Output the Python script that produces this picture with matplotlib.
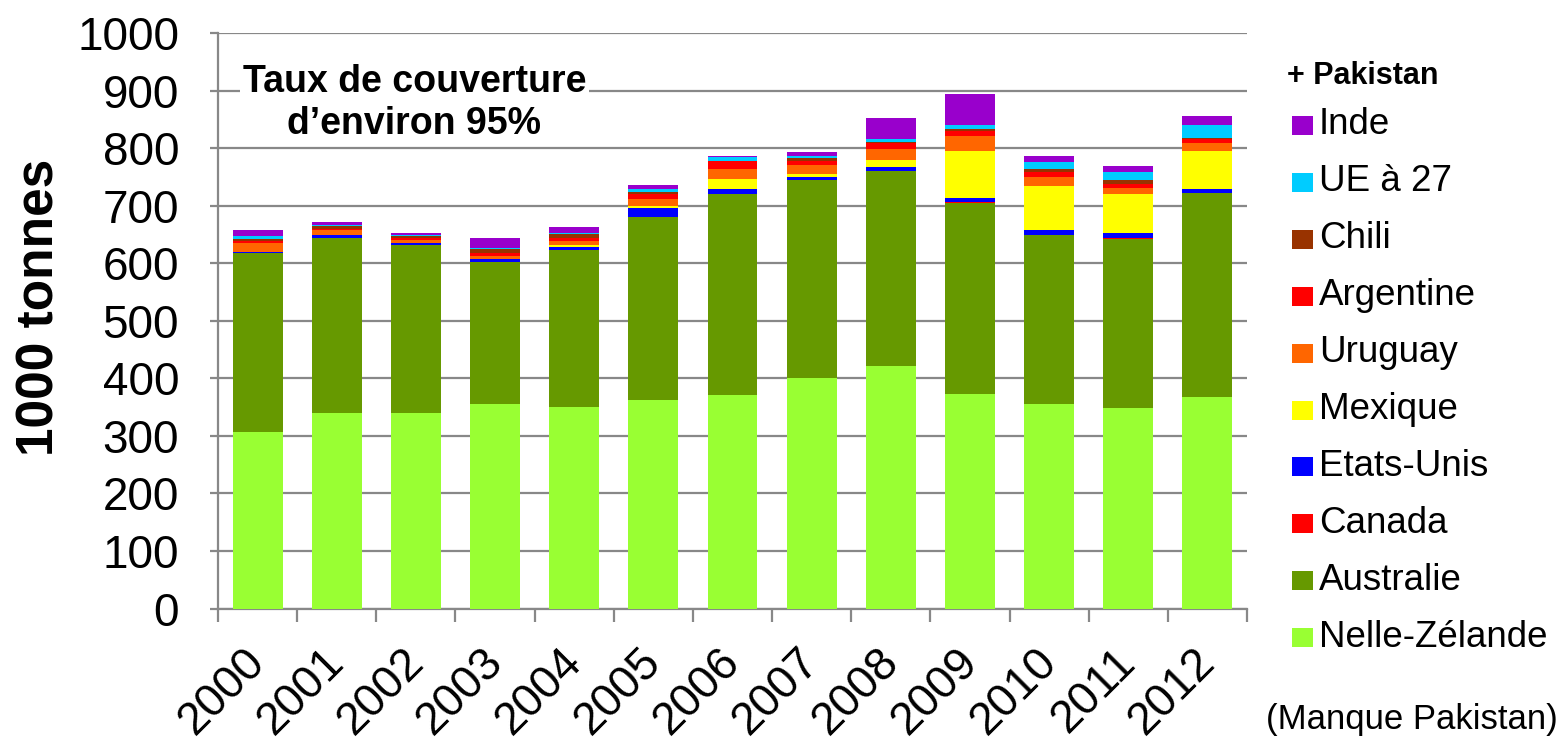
import matplotlib
matplotlib.use("Agg")
import matplotlib.pyplot as plt
import matplotlib.transforms as mtransforms
import numpy as np
from matplotlib.patches import Rectangle

plt.rcParams['font.family'] = ['Liberation Sans', 'DejaVu Sans']

years = ['2000', '2001', '2002', '2003', '2004', '2005', '2006',
         '2007', '2008', '2009', '2010', '2011', '2012']

nz        = [307, 340, 340, 355, 350, 362, 371, 400, 421, 373, 355, 348, 367]
australie = [311, 304, 292, 247, 273, 318, 349, 345, 339, 332, 294, 294, 355]
canada    = [0, 0, 0, 0, 0, 0, 0, 0, 0, 2, 0, 2, 0]
usa       = [2, 5, 3, 5, 5, 16, 9, 5, 7, 6, 9, 8, 7]
mexique   = [0, 0, 0, 0, 4, 4, 18, 5, 12, 82, 76, 68, 66]
uruguay   = [15, 8, 6, 6, 7, 12, 17, 16, 19, 26, 16, 11, 14]
argentine = [4, 3, 3, 5, 5, 8, 13, 6, 11, 9, 8, 7, 6]
chili     = [3, 4, 3, 7, 6, 4, 1, 5, 2, 3, 6, 6, 3]
ue27      = [5, 2, 2, 2, 2, 5, 6, 4, 5, 7, 12, 14, 23]
inde      = [10, 5, 3, 17, 11, 7, 3, 8, 37, 54, 10, 11, 14]

series = [
    ('Nelle-Zélande', nz, '#99FF33'),
    ('Australie', australie, '#669900'),
    ('Canada', canada, '#FF0000'),
    ('Etats-Unis', usa, '#0000FF'),
    ('Mexique', mexique, '#FFFF00'),
    ('Uruguay', uruguay, '#FF6600'),
    ('Argentine', argentine, '#FF0000'),
    ('Chili', chili, '#993300'),
    ('UE à 27', ue27, '#00CCFF'),
    ('Inde', inde, '#9900CC'),
]

W, H = 1562, 744
fig = plt.figure(figsize=(W / 100, H / 100), dpi=100)
ax = fig.add_axes([218 / W, 1 - 608.5 / H, (1247 - 218) / W, (608.5 - 33) / H])

x = np.arange(len(years))
bottom = np.zeros(len(years))
for name, vals, col in series:
    v = np.array(vals, dtype=float)
    ax.bar(x, v, width=0.63, bottom=bottom, color=col, edgecolor='none', zorder=3)
    bottom += v

grey = '#888888'
ax.set_ylim(0, 1000)
ax.set_xlim(-0.5, len(years) - 0.5)
ax.set_yticks(np.arange(0, 1001, 100))
ax.yaxis.grid(True, color=grey, linewidth=1.6, zorder=0)
ax.set_axisbelow(True)
for s in ['top', 'right']:
    ax.spines[s].set_visible(False)
for s in ['left', 'bottom']:
    ax.spines[s].set_color(grey)
    ax.spines[s].set_linewidth(1.6)
ax.tick_params(axis='y', labelsize=33, length=6, width=1.6, color=grey, pad=22)
ax.set_xticks(x)
ax.set_xticklabels(years, rotation=45, ha='right', va='center',
                   rotation_mode='anchor', fontsize=33)
ax.tick_params(axis='x', which='major', length=0, pad=34)
offset = mtransforms.ScaledTranslation(1 / 100, 0, fig.dpi_scale_trans)
for lab in ax.get_xticklabels():
    lab.set_transform(lab.get_transform() + offset)
ax.set_xticks(np.arange(-0.5, len(years), 1.0), minor=True)
ax.tick_params(axis='x', which='minor', length=9, width=1.6, color=grey)

ax.set_ylabel('1000 tonnes', fontsize=37, fontweight='bold')
ax.yaxis.set_label_coords(-0.149, 0.524)

ax.text(1.98, 878, 'Taux de couverture\nd’environ 95%',
        fontsize=27, fontweight='bold', ha='center', va='center',
        linespacing=1.2, zorder=5,
        bbox=dict(facecolor='white', edgecolor='none', pad=2))

# legend
fig.text(1287 / W, 1 - 76 / H, '+ Pakistan', fontsize=22, fontweight='bold',
         ha='left', va='center')
leg_series = list(reversed(series))
for i, (name, vals, col) in enumerate(leg_series):
    yc = 125 + 56.9 * i
    fig.add_artist(Rectangle((1292 / W, 1 - (yc + 10) / H), 21 / W, 19 / H,
                             facecolor=col, edgecolor='none',
                             transform=fig.transFigure))
    fig.text(1319 / W, 1 - yc / H, name, fontsize=26.5, ha='left', va='center')

fig.text(1558 / W, 1 - 720 / H, '(Manque Pakistan)', fontsize=25,
         ha='right', va='center')

fig.savefig('out.png', dpi=100)
